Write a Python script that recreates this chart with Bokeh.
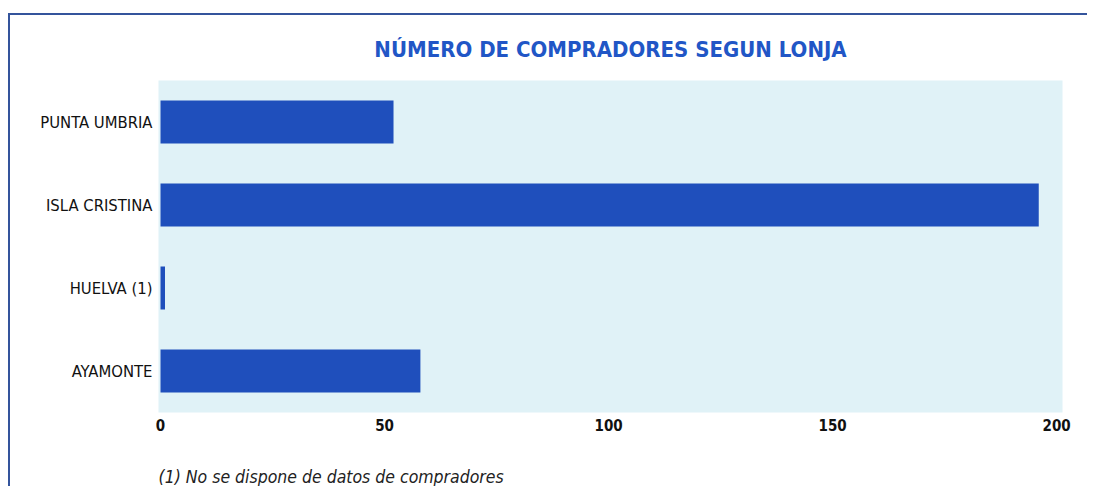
from bokeh.plotting import figure
from bokeh.models import FactorRange, Range1d, Title, FixedTicker
from bokeh.embed import file_html
from bokeh.resources import INLINE

categories = ["AYAMONTE", "HUELVA (1)", "ISLA CRISTINA", "PUNTA UMBRIA"]
compradores = [58, 1, 196, 52]
x_ticks = [0, 50, 100, 150, 200]

FONT = "DejaVu Sans Condensed"

p = figure(width=1079, height=473, output_backend="svg", toolbar_location=None,
           y_range=FactorRange(*categories, range_padding=0),
           x_range=Range1d(-0.45, 201.3),
           min_border_left=148, min_border_right=27,
           min_border_top=65, min_border_bottom=76)

p.hbar(y=categories, right=compradores, left=0, height=0.52,
       color="#1f4fbc", line_color=None)

p.background_fill_color = "#e0f2f7"
p.border_fill_color = "white"
p.outline_line_color = None
p.grid.grid_line_color = None

p.title.text = "NÚMERO DE COMPRADORES SEGUN LONJA"
p.title.align = "center"
p.title.text_font = FONT
p.title.text_font_size = "22px"
p.title.text_font_style = "bold"
p.title.text_color = "#2156c6"
p.title.standoff = 37

for ax in (p.xaxis, p.yaxis):
    ax.axis_line_color = None
    ax.major_tick_line_color = None
    ax.minor_tick_line_color = None
    ax.major_label_text_font = FONT
    ax.major_label_text_color = "#111111"

p.yaxis.major_label_text_font_size = "16.5px"
p.xaxis.ticker = FixedTicker(ticks=x_ticks)
p.xaxis.major_label_text_font_style = "bold"
p.xaxis.major_label_text_font_size = "15px"
p.xaxis.major_label_standoff = 0
p.yaxis.major_label_standoff = 0

spacer = Title(text=" ", text_font=FONT, text_font_size="25px", standoff=0)
p.add_layout(spacer, "below")
note = Title(text="(1) No se dispone de datos de compradores", align="left",
             text_font=FONT, text_font_size="17.5px", text_font_style="italic",
             text_color="#222222", standoff=0)
p.add_layout(note, "below")

p.styles = {"margin-left": "8px", "margin-top": "13px",
            "border-left": "2px solid #34549c", "border-top": "2px solid #34549c"}

open("out.html", "w").write(file_html(p, INLINE))
